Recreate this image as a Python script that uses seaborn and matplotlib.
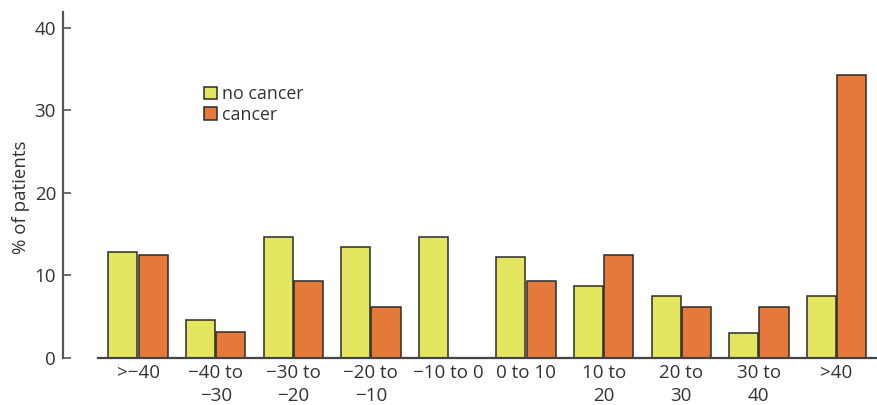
import matplotlib
matplotlib.use("Agg")
import matplotlib.pyplot as plt
from matplotlib.patches import Patch
import pandas as pd
import seaborn as sns

categories = [">−40", "−40 to\n−30", "−30 to\n−20", "−20 to\n−10", "−10 to 0",
              "0 to 10", "10 to\n20", "20 to\n30", "30 to\n40", ">40"]
no_cancer = [12.9, 4.6, 14.7, 13.5, 14.7, 12.2, 8.7, 7.5, 3.0, 7.5]
cancer = [12.5, 3.1, 9.3, 6.2, 0.0, 9.3, 12.5, 6.2, 6.2, 34.3]
series_names = ["no cancer", "cancer"]
colors = ["#e5e65f", "#e4793a"]
yticks = [0, 10, 20, 30, 40]

df = pd.DataFrame({
    "category": categories * 2,
    "value": no_cancer + cancer,
    "group": [series_names[0]] * len(categories) + [series_names[1]] * len(categories),
})

sns.set_style("white")
plt.rcParams["font.family"] = ["Open Sans", "DejaVu Sans"]
text_color = "#333333"
fs = 13.5

fig = plt.figure(figsize=(8.77, 4.05), dpi=100)
ax = fig.add_axes([0.0718, 0.116, 0.928, 0.854])

sns.barplot(data=df, x="category", y="value", hue="group", order=categories,
            hue_order=series_names, palette=colors, width=0.78, gap=0.04,
            edgecolor="#2b2b2b", linewidth=1.1, saturation=1, ax=ax, legend=False)

ax.set_xlim(-0.968, 9.52)
ax.set_ylim(0, 41.9)
ax.set_yticks(yticks)
ax.set_yticklabels([str(t) for t in yticks])
ax.set_xticks(range(len(categories)))
ax.set_xticklabels(categories)
for lbl in ax.get_xticklabels():
    lbl.set_fontsize(fs)
    lbl.set_color(text_color)
    lbl.set_linespacing(1.42)
for lbl in ax.get_yticklabels():
    lbl.set_fontsize(fs)
    lbl.set_color(text_color)
ax.tick_params(axis="x", length=0, pad=4)
ax.tick_params(axis="y", length=6, width=1.2, color="#555555", direction="in", pad=5,
               left=True)
ax.set_xlabel("")
ax.set_ylabel("% of patients", fontsize=fs, color=text_color)
ax.yaxis.set_label_coords(-0.04, 0.465)

for side in ["top", "right"]:
    ax.spines[side].set_visible(False)
ax.spines["left"].set_color("#555555")
ax.spines["left"].set_linewidth(1.6)
ax.spines["bottom"].set_color("#444444")
ax.spines["bottom"].set_linewidth(1.6)
ax.spines["bottom"].set_bounds(-0.52, 9.52)

handles = [Patch(facecolor=c, edgecolor="#2b2b2b", linewidth=1.1) for c in colors]
ax.legend(handles, series_names, loc="upper left", bbox_to_anchor=(0.165, 0.81),
          frameon=False, fontsize=12.8, handlelength=0.7, handleheight=0.7,
          handletextpad=0.3, labelspacing=0.15, borderaxespad=0,
          labelcolor=text_color)

fig.savefig("out.png", dpi=100)
